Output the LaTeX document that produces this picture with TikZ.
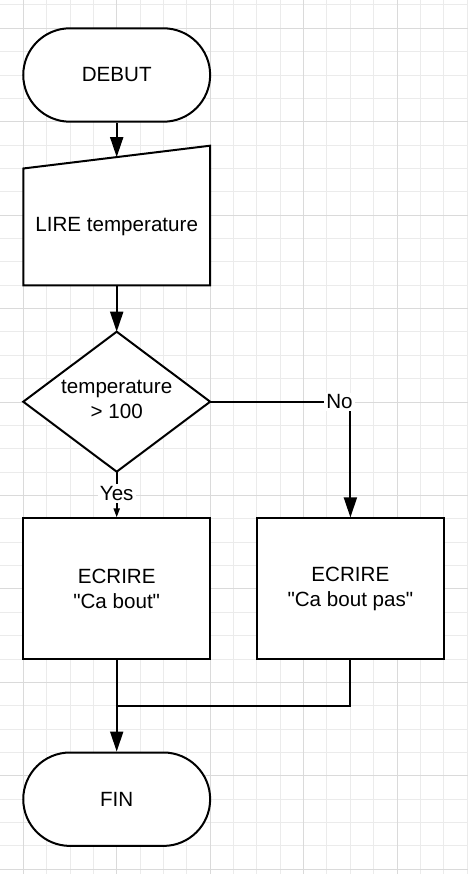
\documentclass[tikz,border=0pt]{standalone}
\usepackage{fontspec}
\setmainfont{Liberation Sans}[Ligatures=TeXOff]
\usetikzlibrary{arrows.meta,calc}
\definecolor{gridminor}{HTML}{EBEBEB}
\definecolor{gridmajor}{HTML}{DADADA}
\begin{document}
\begin{tikzpicture}[x=1pt,y=-1pt,
  txt/.style={font=\fontsize{20.6}{25}\selectfont, align=center, inner sep=0pt, text=black},
  shp/.style={txt, draw=black, line width=2pt, fill=white},
  term/.style={shp, rounded corners=46.7pt, minimum width=186.9pt, minimum height=93.4pt},
  procbox/.style={shp, minimum width=186.9pt, minimum height=140.2pt},
  frame/.style={draw=none, inner sep=0pt, outer sep=0pt},
  outline/.style={draw=black, line width=2pt, fill=white, line join=miter},
  conn/.style={draw=black, line width=2pt},
  arr/.style={conn, -{Triangle[length=20pt,width=13pt]}},
  smallarr/.style={conn, -{Triangle[length=9pt,width=6pt]}},
  lbl/.style={txt, fill=white, inner sep=2pt},
  minorline/.style={draw=gridminor, line width=1pt},
  majorline/.style={draw=gridmajor, line width=1pt}
]
\useasboundingbox (0,0) rectangle (468,874);
\fill[white] (0,0) rectangle (468,874);
% grid
\foreach \k in {-1,...,19} \draw[minorline] ({23.3+23.36*\k},0) -- ++(0,874);
\foreach \k in {-1,...,36} \draw[minorline] (0,{28.3+23.36*\k}) -- ++(468,0);
\foreach \k in {0,4,...,16} \draw[majorline] ({23.3+23.36*\k},0) -- ++(0,874);
\foreach \k in {0,4,...,36} \draw[majorline] (0,{28.3+23.36*\k}) -- ++(468,0);

% DEBUT
\node[term] (debut) at (116.7,75) {DEBUT};

% LIRE temperature (manual input)
\node[frame, minimum width=186.9pt, minimum height=116.8pt] (lire) at (116.7,226.9) {};
\draw[outline] (lire.south west) -- (lire.south east) -- ($(lire.north east)+(0,-22.8)$) -- (lire.north west) -- cycle;
\node[txt] (liretext) at (lire.center) {LIRE temperature};
\coordinate (lirein) at ($(lire.north)+(0,-11.4)$);

% decision
\node[frame, minimum width=186.9pt, minimum height=140pt] (dec) at (116.7,401.7) {};
\draw[outline] (dec.north) -- (dec.east) -- (dec.south) -- (dec.west) -- cycle;
\node[txt] (dectext) at (116.7,399.2) {temperature\\> 100};

% outputs
\node[procbox] (oui) at (116.7,588.5) {ECRIRE\\"Ca bout"};
\node[procbox] (non) at (350.4,588.5) {ECRIRE\\"Ca bout pas"};

% FIN
\node[term] (fin) at (116.7,799.2) {FIN};
\coordinate (join) at (116.7,705.7);

% connectors
\draw[arr] (debut.south) -- (lirein);
\draw[arr] (lire.south) -- (dec.north);
\draw[arr] (dec.east) -| (non.north);
\draw[smallarr] (dec.south) -- (oui.north);
\draw[arr] (oui.south) -- (fin.north);
\draw[conn] (non.south) |- (join);

% labels
\node[lbl] (nolbl) at (339.5,401.7) {No};
\node[lbl] (yeslbl) at (116.7,493.5) {Yes};
\end{tikzpicture}
\end{document}
